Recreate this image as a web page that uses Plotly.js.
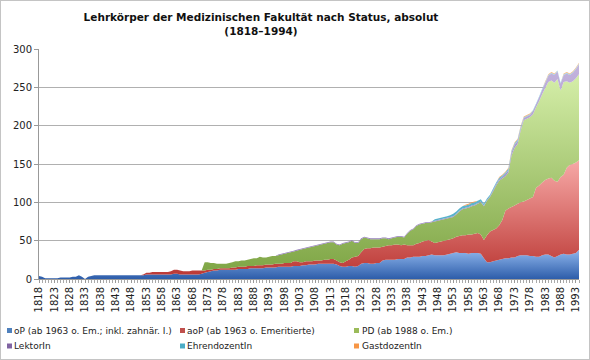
<!DOCTYPE html>
<html><head><meta charset="utf-8">
<script src="https://cdn.plot.ly/plotly-3.0.1.min.js"></script>
<style>
html,body{margin:0;padding:0;background:#fff;}
#chart{width:590px;height:360px;box-sizing:border-box;border:1px solid #c4c4c4;}
</style></head><body><div id="chart"></div>
<script>
const years = [
1818,1819,1820,1821,1822,1823,1824,1825,1826,1827,
1828,1829,1830,1831,1832,1833,1834,1835,1836,1837,
1838,1839,1840,1841,1842,1843,1844,1845,1846,1847,
1848,1849,1850,1851,1852,1853,1854,1855,1856,1857,
1858,1859,1860,1861,1862,1863,1864,1865,1866,1867,
1868,1869,1870,1871,1872,1873,1874,1875,1876,1877,
1878,1879,1880,1881,1882,1883,1884,1885,1886,1887,
1888,1889,1890,1891,1892,1893,1894,1895,1896,1897,
1898,1899,1900,1901,1902,1903,1904,1905,1906,1907,
1908,1909,1910,1911,1912,1913,1914,1915,1916,1917,
1918,1919,1920,1921,1922,1923,1924,1925,1926,1927,
1928,1929,1930,1931,1932,1933,1934,1935,1936,1937,
1938,1939,1940,1941,1942,1943,1944,1945,1946,1947,
1948,1949,1950,1951,1952,1953,1954,1955,1956,1957,
1958,1959,1960,1961,1962,1963,1964,1965,1966,1967,
1968,1969,1970,1971,1972,1973,1974,1975,1976,1977,
1978,1979,1980,1981,1982,1983,1984,1985,1986,1987,
1988,1989,1990,1991,1992,1993,1994];

const tickLabels = ['1818','1823','1828','1833','1838','1843','1848','1853','1858','1863',
'1868','1873','1878','1883','1888','1893','1898','1903','1908','1913','1918','1923','1928',
'1933','1938','1943','1948','1953','1958','1963','1968','1973','1978','1983','1988','1993'];

// oP (ab 1963 o. Em.; inkl. zahnär. I.)
const oP = [
4,3,1,1,1,1,1,2,2,2,
2,3,3,5,3,0,3,4,5,5,
5,5,5,5,5,5,5,5,5,5,
5,5,5,5,5,6,6,6,6,6,
6,6,6,6,7,7,6,6,6,6,
6,6,6,7,8,9,10,11,11,12,
12,12,12,12,12,13,13,13,13,14,
14,14,14,14,15,15,15,15,16,16,
16,16,16,17,17,17,18,18,19,19,
19,20,20,20,20,20,20,19,17,16,
16,17,17,16,17,20,21,21,20,20,
21,21,24,25,25,25,25,26,26,26,
28,28,29,29,29,30,30,31,32,31,
31,31,31,32,33,34,35,34,34,34,
33,34,34,34,33,27,22,22,23,24,
25,26,27,27,28,28,30,31,31,31,
30,30,29,29,31,32,32,30,28,30,
32,33,32,32,33,34,38];

// aoP (ab 1963 o. Emeritierte)
const aoP = [
0,0,0,0,0,0,0,0,0,0,
0,0,0,0,0,0,0,0,0,0,
0,0,0,0,0,0,0,0,0,0,
0,0,0,0,1,2,2,3,3,3,
3,3,3,4,5,5,5,4,4,4,
5,5,5,4,3,3,2,2,2,2,
2,2,2,3,3,3,3,3,4,3,
3,4,4,4,4,4,4,5,4,4,
5,5,5,6,6,5,4,5,4,4,
5,4,4,5,5,6,6,5,5,5,
7,8,11,13,13,15,18,19,20,21,
20,20,18,18,19,19,20,19,18,19,
16,16,15,17,18,19,20,20,17,16,
17,18,19,19,19,19,20,22,23,23,
25,24,25,26,25,24,35,40,41,42,
45,51,62,65,66,68,68,69,70,72,
75,77,90,93,95,97,99,102,100,97,
101,103,113,117,117,118,117];

// PD (ab 1988 o. Em.)
const PD = [
0,0,0,0,0,0,0,0,0,0,
0,0,0,0,0,0,0,0,0,0,
0,0,0,0,0,0,0,0,0,0,
0,0,0,0,0,0,0,0,0,0,
0,0,0,0,0,0,0,0,0,0,
0,0,0,0,11,10,9,8,7,6,
6,6,7,7,8,7,8,8,8,9,
10,9,11,10,9,10,11,10,11,12,
12,13,14,13,14,16,17,17,18,19,
19,20,21,21,22,22,22,21,22,25,
24,23,22,18,17,17,15,13,12,11,
11,11,11,10,8,9,9,10,11,9,
15,19,21,23,24,23,23,22,25,28,
28,28,28,28,28,28,29,32,34,35,
35,37,37,38,42,44,45,45,50,56,
58,54,45,47,67,75,78,94,106,106,
106,108,105,110,115,120,126,127,128,134,
113,121,113,107,108,110,112];

// LektorIn
const LektorIn = [
0,0,0,0,0,0,0,0,0,0,
0,0,0,0,0,0,0,0,0,0,
0,0,0,0,0,0,0,0,0,0,
0,0,0,0,0,0,0,0,0,0,
0,0,0,0,0,0,0,0,0,0,
0,0,0,0,0,0,0,0,0,0,
0,0,0,0,0,0,0,0,0,0,
0,0,0,0,0,0,0,0,1,1,
1,1,1,1,1,1,1,1,1,1,
1,1,1,1,1,1,1,1,1,1,
1,1,1,1,1,1,1,1,1,1,
1,1,1,1,1,1,1,1,1,1,
1,1,1,1,1,1,1,1,1,1,
1,1,1,1,1,1,1,1,1,1,
1,1,1,1,1,1,1,1,2,2,
2,2,3,3,4,4,4,3,3,3,
3,4,4,5,6,7,8,9,10,10,
9,9,10,10,11,12,13];

// EhrendozentIn
const EhrendozentIn = [
0,0,0,0,0,0,0,0,0,0,
0,0,0,0,0,0,0,0,0,0,
0,0,0,0,0,0,0,0,0,0,
0,0,0,0,0,0,0,0,0,0,
0,0,0,0,0,0,0,0,0,0,
0,0,0,0,0,0,0,0,0,0,
0,0,0,0,0,0,0,0,0,0,
0,0,0,0,0,0,0,0,0,0,
0,0,0,0,0,0,0,0,0,0,
0,0,0,0,0,0,0,0,0,0,
0,0,0,0,0,0,0,0,0,0,
0,0,0,0,0,0,0,0,0,0,
0,0,0,0,0,0,0,0,0,2,
2,2,2,2,2,3,3,3,3,3,
3,3,3,3,3,2,2,2,2,2,
2,2,2,2,2,2,2,2,1,1,
1,1,1,1,1,1,1,1,1,1,
1,1,1,1,1,1,1];

// GastdozentIn
const GastdozentIn = [
0,0,0,0,0,0,0,0,0,0,
0,0,0,0,0,0,0,0,0,0,
0,0,0,0,0,0,0,0,0,0,
0,0,0,0,0,0,0,0,0,0,
0,0,0,0,0,0,0,0,0,0,
0,0,0,0,0,0,0,0,0,0,
0,0,0,0,0,0,0,0,0,0,
0,0,0,0,0,0,0,0,0,0,
0,0,0,0,0,0,0,0,0,0,
0,0,0,0,0,0,0,0,0,0,
0,0,0,0,0,0,0,0,0,0,
0,0,0,0,0,0,0,0,0,0,
0,0,0,0,0,0,0,0,0,0,
0,0,0,0,0,0,0,0,0,1,
1,1,1,0,0,0,0,0,0,0,
1,1,1,1,1,1,1,1,1,1,
1,0,0,0,0,1,1,1,1,0,
0,1,1,1,1,1,1];

const seriesNames = ['oP (ab 1963 o. Em.; inkl. zahnär. I.)','aoP (ab 1963 o. Emeritierte)',
  'PD (ab 1988 o. Em.)','LektorIn','EhrendozentIn','GastdozentIn'];
const seriesValues = [oP, aoP, PD, LektorIn, EhrendozentIn, GastdozentIn];

// styling (not data)
const styles = [
  {lo:'#2D5DAA', hi:'#8FB6EC', stop:38,  swatch:'#4F81BD'},
  {lo:'#BA3531', hi:'#F7A9A7', stop:155, swatch:'#C0504D'},
  {lo:'#7CA342', hi:'#D9F2AE', stop:280, swatch:'#9BBB59'},
  {lo:'#8A72B3', hi:'#C4B5DE', stop:285, swatch:'#8064A2'},
  {lo:'#3FA3BF', hi:'#93D6E9', stop:285, swatch:'#4BACC6'},
  {lo:'#F08A38', hi:'#FBB47A', stop:285, swatch:'#F79646'}
];

const traces = seriesValues.map((vals, i) => ({
  type: 'scatter',
  x: years,
  y: vals,
  name: seriesNames[i],
  stackgroup: 'one',
  mode: 'none',
  fillcolor: styles[i].swatch,
  fillgradient: {type: 'vertical', start: 0, stop: styles[i].stop,
    colorscale: [[0, styles[i].lo], [1, styles[i].hi]]},
  showlegend: false,
  hoverinfo: 'skip'
}));

// legend built from annotations + swatches (page pixel -> paper coords)
const W = 588, H = 358, L = 38, T = 48, PW = 540, PH = 230;
const px = p => (p - 1 - L) / PW;
const py = p => (T + PH - (p - 1)) / PH;
const legendCols = [12, 185, 360];
const swatchCols = [7, 180, 354];
const legendRows = [330.5, 346];
const annotations = [];
const shapes = [];
seriesNames.forEach((nm, i) => {
  const c = i % 3, r = Math.floor(i / 3);
  annotations.push({xref:'paper', yref:'paper', x: px(legendCols[c]), y: py(legendRows[r]),
    xanchor:'left', yanchor:'middle', showarrow:false, text: nm,
    font:{family:'DejaVu Sans', size:9, color:'#222'}});
  shapes.push({type:'rect', xref:'paper', yref:'paper', layer:'above',
    x0: px(swatchCols[c]), x1: px(swatchCols[c] + 5),
    y0: py(legendRows[r] - 2.5), y1: py(legendRows[r] + 2.5),
    line:{width:0}, fillcolor: styles[i].swatch});
});

const layout = {
  width: W, height: H,
  margin: {l: L, r: W - L - PW, t: T, b: H - T - PH, pad: 0},
  paper_bgcolor: '#fff', plot_bgcolor: '#fff',
  font: {family: 'DejaVu Sans', size: 10, color: '#222'},
  title: {
    text: 'Lehrkörper der Medizinischen Fakultät nach Status, absolut<br>(1818–1994)',
    font: {family: 'DejaVu Sans', size: 10.5, weight: 'bold', color: '#111'},
    x: 260 / W, xref: 'container', xanchor: 'center',
    y: 1 - 20 / H, yref: 'container', yanchor: 'top'
  },
  xaxis: {
    type: 'linear', range: [1818, 1994], fixedrange: true,
    tickmode: 'array', tickvals: tickLabels.map(Number), ticktext: tickLabels,
    tickangle: -90, tickfont: {family: 'DejaVu Sans', size: 10, color: '#222'},
    ticks: 'outside', ticklen: 3, tickcolor: '#999', tickwidth: 1,
    minor: {dtick: 1, tick0: 1818, ticks: 'outside', ticklen: 3, tickcolor: '#aaa', showgrid: false},
    showgrid: false, zeroline: false,
    showline: true, linecolor: '#999', linewidth: 1
  },
  yaxis: {
    range: [0, 300], dtick: 50, tick0: 0, fixedrange: true,
    tickfont: {family: 'DejaVu Sans', size: 10, color: '#222'},
    ticks: 'outside', ticklen: 4, tickcolor: '#999',
    showgrid: true, gridcolor: '#b0b0b0', gridwidth: 1,
    zeroline: false, showline: true, linecolor: '#999', linewidth: 1
  },
  showlegend: false,
  annotations: annotations,
  shapes: shapes
};

Plotly.newPlot('chart', traces, layout, {staticPlot: true, displayModeBar: false});
</script></body></html>
